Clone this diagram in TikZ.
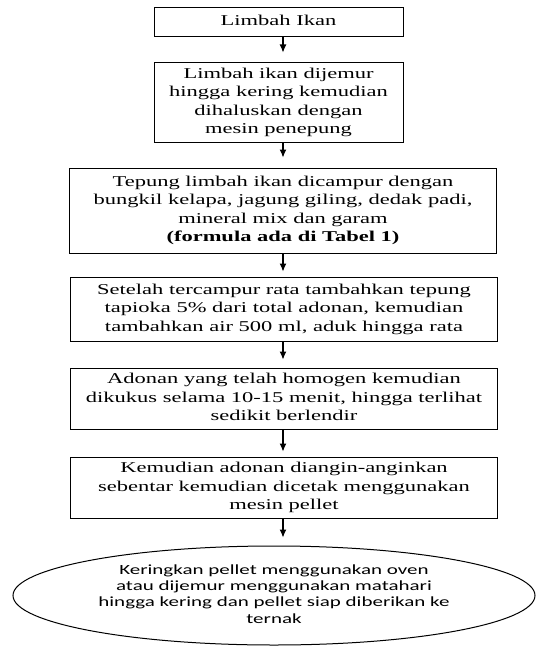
\documentclass[tikz,border=0pt]{standalone}
\usepackage{fontspec}
\usepackage{graphicx}
\setmainfont{Liberation Serif}
\newfontfamily\ellfont{Carlito}
\newcommand{\stxt}[1]{\scalebox{1.5}[1]{\begin{tabular}{@{}c@{}}#1\end{tabular}}}
\usetikzlibrary{arrows.meta,shapes.geometric}
\begin{document}
\begin{tikzpicture}[x=1pt,y=-1pt,
  box/.style={draw, line width=1pt, rectangle, inner sep=0pt,
    font=\fontsize{15}{18.5}\selectfont},
  wide/.style={box, minimum width=427pt},
  endell/.style={draw, line width=1pt, ellipse, inner sep=0pt,
    minimum width=522pt, minimum height=99pt,
    font=\ellfont\fontsize{14}{16.3}\selectfont},
  arr/.style={-{Latex[length=8pt,width=7pt]}, line width=1.1pt},
]
\useasboundingbox (0,0) rectangle (537,650);
\node[box, minimum width=249pt, minimum height=29pt] (b1) at (278.5,22) {\stxt{Limbah Ikan}};
\node[box, minimum width=249pt, minimum height=79pt] (b2) at (278.5,102.5)
  {\stxt{Limbah ikan dijemur\\hingga kering kemudian\\dihaluskan dengan\\mesin penepung}};
\node[wide, minimum height=85pt] (b3) at (283,210.5)
  {\stxt{Tepung limbah ikan dicampur dengan\\bungkil kelapa, jagung giling, dedak padi,\\mineral mix dan garam\\\textbf{(formula ada di Tabel 1)}}};
\node[wide, minimum height=64pt] (b4) at (284,309)
  {\stxt{Setelah tercampur rata tambahkan tepung\\tapioka 5\% dari total adonan, kemudian\\tambahkan air 500 ml, aduk hingga rata}};
\node[wide, minimum height=61pt] (b5) at (284,398.5)
  {\stxt{Adonan yang telah homogen kemudian\\dikukus selama 10-15 menit, hingga terlihat\\sedikit berlendir}};
\node[wide, minimum height=61pt] (b6) at (284,487.5)
  {\stxt{Kemudian adonan diangin-anginkan\\sebentar kemudian dicetak menggunakan\\mesin pellet}};
\node[endell] (e) at (274,595.5)
  {\stxt{Keringkan pellet menggunakan oven\\atau dijemur menggunakan matahari\\hingga kering dan pellet siap diberikan ke\\ternak}};
\draw[arr, shorten >=10pt] (b1.south -| b3.north) -- (b2.north -| b3.north);
\draw[arr, shorten >=10pt] (b2.south -| b3.north) -- (b3.north);
\draw[arr, shorten >=5pt] (b3.south) -- (b4.north -| b3.south);
\draw[arr, shorten >=8pt] (b4.south -| b3.south) -- (b5.north -| b3.south);
\draw[arr, shorten >=5pt] (b5.south -| b3.south) -- (b6.north -| b3.south);
\draw[arr, shorten >=8pt] (b6.south -| b3.south) -- (e.north -| b3.south);
\end{tikzpicture}
\end{document}
